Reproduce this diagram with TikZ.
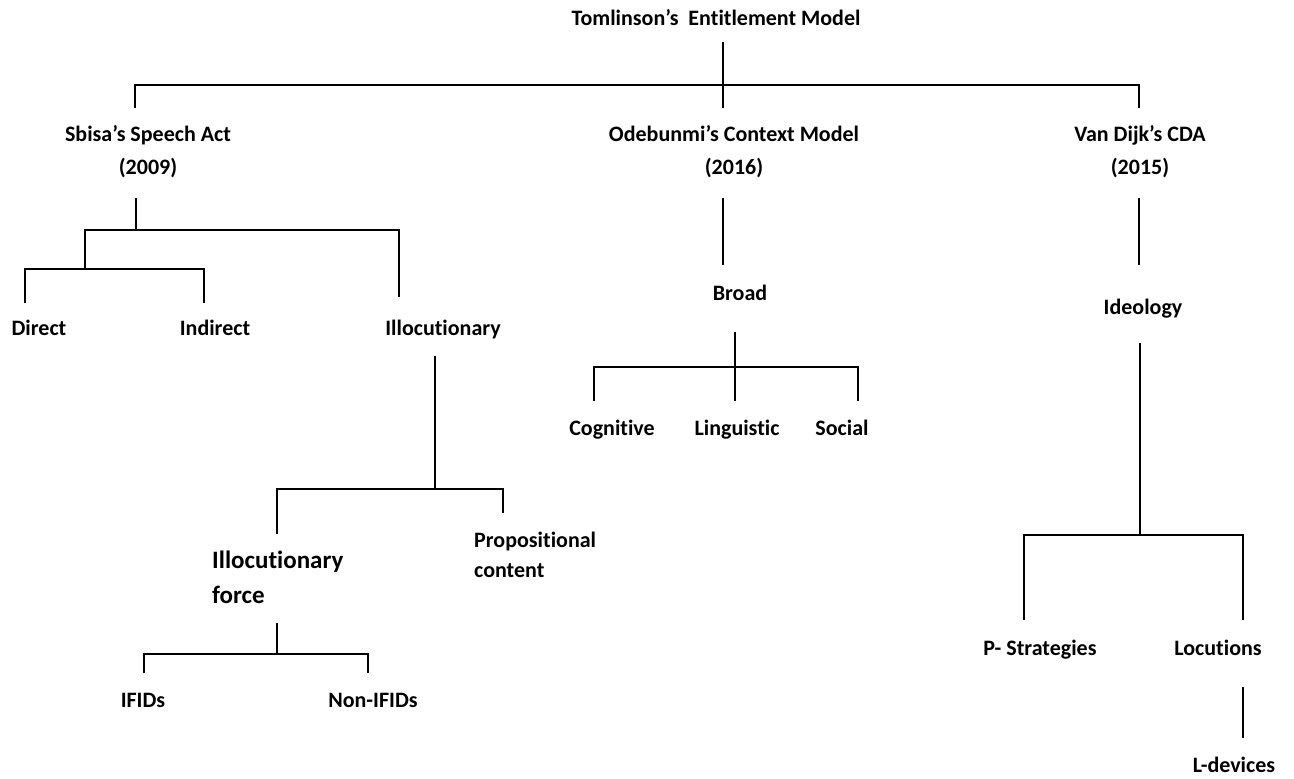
\documentclass[tikz,border=0pt]{standalone}
\usepackage{fontspec}
\setmainfont{Carlito}[Ligatures=NoCommon]
\begin{document}
\begin{tikzpicture}[x=1pt,y=-1pt,
  lbl/.style={inner sep=0pt,text height=1.5ex,text depth=.3ex,yshift=-5pt,font=\bfseries\fontsize{22}{26}\selectfont},
  big/.style={inner sep=0pt,align=left,font=\bfseries\fontsize{25}{35}\selectfont},
  two/.style={inner sep=0pt,align=center,font=\bfseries\fontsize{22}{33}\selectfont},
  twol/.style={inner sep=0pt,align=left,font=\bfseries\fontsize{22}{30}\selectfont},
  br/.style={line width=2.8pt,line join=miter}]
\useasboundingbox (0,0) rectangle (1294,779);
% nodes
\node[lbl] (root) at (716,18) {Tomlinson’s\ \ Entitlement Model};
\node[two] (sb) at (148,151.5) {Sbisa’s Speech Act\\(2009)};
\node[two] (od) at (734,151.5) {Odebunmi’s Context Model\\(2016)};
\node[two] (vd) at (1140,151.5) {Van Dijk’s CDA\\(2015)};
\node[lbl] (dir) at (39,328) {Direct};
\node[lbl] (ind) at (215,328) {Indirect};
\node[lbl] (ill) at (443,328) {Illocutionary};
\node[big,anchor=west] (force) at (212,577.5) {Illocutionary\\force};
\node[twol,anchor=west] (prop) at (474,555) {Propositional\\content};
\node[lbl] (ifid) at (143,700) {IFIDs};
\node[lbl] (nifid) at (373,700) {Non-IFIDs};
\node[lbl] (broad) at (740,293) {Broad};
\node[lbl] (cog) at (612,428) {Cognitive};
\node[lbl] (ling) at (737,428) {Linguistic};
\node[lbl] (soc) at (842,428) {Social};
\node[lbl] (ideo) at (1143,307) {Ideology};
\node[lbl] (pst) at (1040,648) {P- Strategies};
\node[lbl] (loc) at (1218,648) {Locutions};
\node[lbl] (ldev) at (1234,765) {L-devices};
% coordinates
\coordinate (r1) at (723,42);
\coordinate (r2) at (723,108);
\coordinate (rj) at (723,85);
\coordinate (sbt) at (135,108);
\coordinate (vdt) at (1139,108);
\coordinate (sbb) at (136,198);
\coordinate (sbj) at (136,230);
\coordinate (dih) at (85,269);
\coordinate (dirt) at (25,303);
\coordinate (indt) at (204,303);
\coordinate (illt) at (399,297);
\coordinate (illb) at (435,356);
\coordinate (illj) at (435,489);
\coordinate (frt) at (277,534);
\coordinate (prt) at (503,513);
\coordinate (frb) at (277,623);
\coordinate (frj) at (277,654);
\coordinate (ift) at (144,673);
\coordinate (nit) at (368,673);
\coordinate (odb) at (723,198);
\coordinate (odt) at (723,265);
\coordinate (brb) at (735,332);
\coordinate (brj) at (735,367);
\coordinate (cogt) at (594,401);
\coordinate (lint) at (735,401);
\coordinate (soct) at (858,401);
\coordinate (vdb) at (1139,198);
\coordinate (vdbt) at (1139,265);
\coordinate (idb) at (1140,343);
\coordinate (idj) at (1140,535);
\coordinate (pstt) at (1024,620);
\coordinate (loct) at (1243,620);
\coordinate (locb) at (1243,687);
\coordinate (ldt) at (1243,738);
% connectors
\draw[br] (r1) -- (r2);
\draw[br] (sbt) |- (rj) -| (vdt);
\draw[br] (sbb) -- (sbj);
\draw[br] (dih) |- (sbj) -| (illt);
\draw[br] (dirt) |- (dih) -| (indt);
\draw[br] (illb) -- (illj);
\draw[br] (frt) |- (illj) -| (prt);
\draw[br] (frb) -- (frj);
\draw[br] (ift) |- (frj) -| (nit);
\draw[br] (odb) -- (odt);
\draw[br] (brb) -- (lint);
\draw[br] (cogt) |- (brj) -| (soct);
\draw[br] (vdb) -- (vdbt);
\draw[br] (idb) -- (idj);
\draw[br] (pstt) |- (idj) -| (loct);
\draw[br] (locb) -- (ldt);
\end{tikzpicture}
\end{document}
